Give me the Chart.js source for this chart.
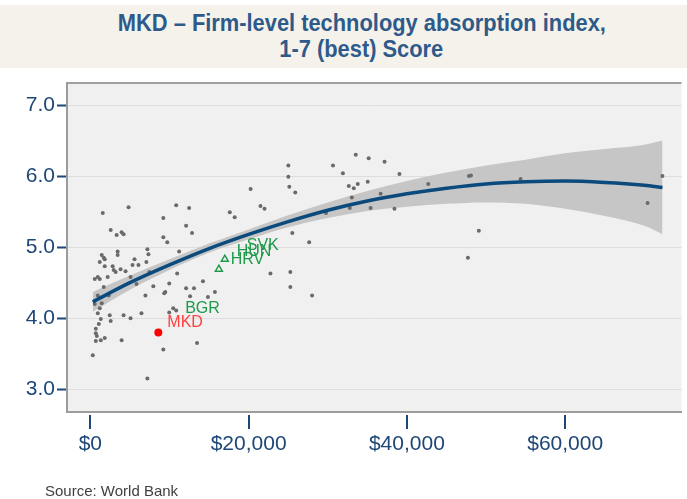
<!DOCTYPE html>
<html lang="en">
<head>
<meta charset="utf-8" />
<title>MKD – Firm-level technology absorption index</title>
<script src="https://cdn.jsdelivr.net/npm/chart.js"></script>
<style>
    body { margin: 0; background: #fff; }
    #wrap { position: relative; width: 687px; height: 499px; }
    #titulo {
        position: absolute; left: 0; top: 5px; width: 687px; height: 63px;
        box-sizing: border-box; padding-top: 5px; padding-left: 36px;
        background: #f5f2ec; color: #2e5a8a; text-align: center;
        font: bold 23px "Liberation Sans", Arial, sans-serif;
        line-height: 26px;
    }
    #titulo span { display: inline-block; transform: scaleX(0.95); white-space: nowrap; }
    #fuente {
        position: absolute; left: 45px; top: 482px;
        font: 15px "Liberation Sans", Arial, sans-serif; color: #404040;
    }
    canvas { position: absolute; left: 0; top: 0; }
</style>
</head>
<body>
<div id="wrap">
    <div id="titulo"><span>MKD – Firm-level technology absorption index,</span><br><span>1-7 (best) Score</span></div>
    <canvas id="grafico" width="687" height="499"></canvas>
    <div id="fuente">Source: World Bank</div>
</div>

<script>
// GDP per capita (US$) and score of every country
const gdpX = [1570, 4830, 2570, 3320, 3950, 4200, 9220, 9220, 9720, 1440,
    1690, 1190, 1820, 3450, 3450, 7210, 7340, 5580, 6080, 7080,
    5330, 2820, 2950, 3200, 3820, 1820, 7460, 560, 940, 1190,
    2190, 4450, 5080, 6960, 9340, 7960, 940, 1440, 940, 2450,
    2570, 4200, 5080, 6460, 1320, 1070, 690, 690, 820, 1820,
    690, 1320, 3950, 310, 9220, 7210, 2320, 560, 5830, 9970,
    9470, 9970, 10470, 10850, 13480, 10850, 12480, 12100, 12850, 17620,
    18240, 20250, 21500, 22010, 11220, 10970, 12100, 13100, 14230, 14860,
    15740, 12600, 25020, 25020, 25140, 25890, 30660, 33540, 35170, 37180,
    31910, 39060, 32660, 33290, 33790, 35050, 33040, 36680, 42700, 47840,
    48090, 29780, 32790, 35420, 38430, 25520, 27650, 22760, 25270, 25270,
    28020, 47710, 49090, 54360, 70410, 72290, 1190, 1690];
const scoreY = [5.48, 5.56, 5.24, 5.17, 5.21, 5.18, 5.41, 5.14, 5.07, 4.89,
    4.85, 4.79, 4.83, 4.94, 4.89, 4.97, 4.90, 4.83, 4.75, 4.79,
    4.75, 4.73, 4.68, 4.65, 4.69, 4.73, 4.65, 4.55, 4.58, 4.55,
    4.58, 4.66, 4.58, 4.32, 4.35, 4.45, 4.32, 4.21, 4.07, 4.04,
    3.96, 4.04, 4.00, 4.07, 3.99, 3.92, 3.85, 3.79, 3.75, 3.72,
    3.68, 3.69, 3.69, 3.48, 3.56, 3.15, 4.32, 4.20, 4.48, 4.49,
    4.37, 4.08, 4.14, 4.11, 3.65, 5.59, 5.55, 5.30, 5.20, 5.49,
    5.42, 5.82, 5.58, 5.54, 4.94, 4.63, 4.42, 4.42, 4.52, 4.30,
    4.37, 4.31, 6.15, 5.99, 5.85, 5.77, 6.15, 6.30, 6.25, 6.20,
    6.04, 6.03, 5.86, 5.83, 5.89, 5.92, 5.70, 5.75, 5.89, 6.00,
    6.01, 5.48, 5.55, 5.55, 5.54, 5.20, 5.07, 4.63, 4.65, 4.44,
    4.32, 4.85, 5.23, 5.96, 5.62, 6.00, 4.14, 4.44];

// comparator countries (green triangles)
const compX = [11220, 16990, 16240, 17740, 19000];
const compY = [4.13, 4.83, 4.69, 4.94, 5.02];
const compLabels = ['BGR', 'HRV', '', 'HUN', 'SVK'];

// MKD
const mkdX = 8590;
const mkdY = 3.80;
const mkdLabel = 'MKD';

// fitted line and confidence band
const fitX = [300, 5000, 10000, 15000, 20000, 25000, 30000, 35000, 40000, 45000, 50000, 55000, 60000, 65000, 70000, 72300];
const fitY = [4.23, 4.50, 4.75, 4.98, 5.18, 5.36, 5.52, 5.65, 5.75, 5.83, 5.89, 5.92, 5.93, 5.91, 5.87, 5.84];
const ciUpper = [4.37, 4.60, 4.83, 5.05, 5.25, 5.45, 5.63, 5.79, 5.93, 6.05, 6.15, 6.23, 6.32, 6.38, 6.44, 6.50];
const ciLower = [4.09, 4.40, 4.68, 4.92, 5.11, 5.28, 5.41, 5.51, 5.57, 5.61, 5.63, 5.61, 5.54, 5.44, 5.30, 5.18];

const xTicks = [0, 20000, 40000, 60000];
const xTickLabels = ['$0', '$20,000', '$40,000', '$60,000'];
const yTicks = [3, 4, 5, 6, 7];
const yTickLabels = ['3.0', '4.0', '5.0', '6.0', '7.0'];

const azul = '#1d4776';
const verde = '#1f9a4a';

function puntos(xs, ys) {
    return xs.map((v, i) => ({ x: v, y: ys[i] }));
}

const fondo = {
    id: 'fondo',
    beforeDraw(chart) {
        const { ctx, chartArea: a } = chart;
        ctx.save();
        ctx.fillStyle = '#f0f0f0';
        ctx.fillRect(a.left, a.top, a.right - a.left, a.bottom - a.top);
        ctx.strokeStyle = '#a0a0a0';
        ctx.lineWidth = 2;
        ctx.beginPath();
        ctx.moveTo(a.left, a.top);
        ctx.lineTo(a.right, a.top);
        ctx.stroke();
        ctx.restore();
    },
    afterDatasetsDraw(chart) {
        const { ctx, scales: { x, y } } = chart;
        ctx.save();
        ctx.font = '16px "Liberation Sans", Arial, sans-serif';
        ctx.textBaseline = 'middle';
        ctx.fillStyle = verde;
        compLabels.forEach((t, i) => {
            if (!t) return;
            ctx.fillText(t, x.getPixelForValue(compX[i]) + 6, y.getPixelForValue(compY[i]));
        });
        ctx.fillStyle = '#ff4040';
        ctx.fillText(mkdLabel, x.getPixelForValue(mkdX) + 9, y.getPixelForValue(mkdY) - 10);

        // x tick marks, a little below the frame
        ctx.strokeStyle = azul;
        ctx.lineWidth = 2;
        xTicks.forEach(v => {
            const px = Math.round(x.getPixelForValue(v));
            ctx.beginPath();
            ctx.moveTo(px, x.top + 3);
            ctx.lineTo(px, x.top + 17);
            ctx.stroke();
        });
        ctx.restore();
    }
};

new Chart(document.getElementById('grafico'), {
    type: 'scatter',
    data: {
        datasets: [
            {
                type: 'line',
                data: puntos(fitX, ciUpper),
                fill: '+1',
                backgroundColor: '#c6c6c6',
                borderWidth: 0,
                pointRadius: 0,
                cubicInterpolationMode: 'monotone',
                order: 5
            },
            {
                type: 'line',
                data: puntos(fitX, ciLower),
                fill: false,
                borderWidth: 0,
                pointRadius: 0,
                cubicInterpolationMode: 'monotone',
                order: 5
            },
            {
                data: puntos(gdpX, scoreY),
                pointRadius: 2,
                pointBackgroundColor: '#6a6a6a',
                pointBorderWidth: 0,
                order: 3
            },
            {
                type: 'line',
                data: puntos(fitX, fitY),
                borderColor: '#0b4a7d',
                borderWidth: 3.5,
                pointRadius: 0,
                fill: false,
                cubicInterpolationMode: 'monotone',
                order: 2
            },
            {
                data: puntos(compX, compY),
                pointStyle: 'triangle',
                pointRadius: [0, 4, 4, 0, 0],
                pointBorderColor: verde,
                pointBackgroundColor: 'rgba(0,0,0,0)',
                pointBorderWidth: 1.5,
                order: 1
            },
            {
                data: [{ x: mkdX, y: mkdY }],
                pointRadius: 4,
                pointBackgroundColor: '#ff0000',
                pointBorderWidth: 0,
                order: 0
            }
        ]
    },
    options: {
        responsive: false,
        animation: false,
        layout: { padding: { top: 83, left: 0, right: 0, bottom: 0 } },
        plugins: {
            legend: { display: false },
            tooltip: { enabled: false }
        },
        scales: {
            x: {
                type: 'linear',
                min: -2950,
                max: 74700,
                afterBuildTicks: s => { s.ticks = xTicks.map(v => ({ value: v })); },
                afterFit: s => { s.height = 87; },
                ticks: {
                    callback: (v, i) => xTickLabels[i],
                    color: azul,
                    font: { family: 'Liberation Sans', size: 21 },
                    padding: 0,
                    maxRotation: 0,
                    autoSkip: false
                },
                grid: { drawOnChartArea: false, color: 'rgba(0,0,0,0)', tickLength: 20 },
                border: { color: '#9c9c9c', width: 2 }
            },
            y: {
                type: 'linear',
                min: 2.68,
                max: 7.31,
                afterBuildTicks: s => { s.ticks = yTicks.map(v => ({ value: v })); },
                afterFit: s => { s.width = 67; },
                ticks: {
                    callback: (v, i) => yTickLabels[i],
                    color: azul,
                    font: { family: 'Liberation Sans', size: 21 },
                    padding: 2
                },
                grid: { color: '#dedede', lineWidth: 1, tickColor: azul, tickWidth: 2, tickLength: 10 },
                border: { color: '#9c9c9c', width: 2 }
            }
        }
    },
    plugins: [fondo]
});
</script>
</body>
</html>
